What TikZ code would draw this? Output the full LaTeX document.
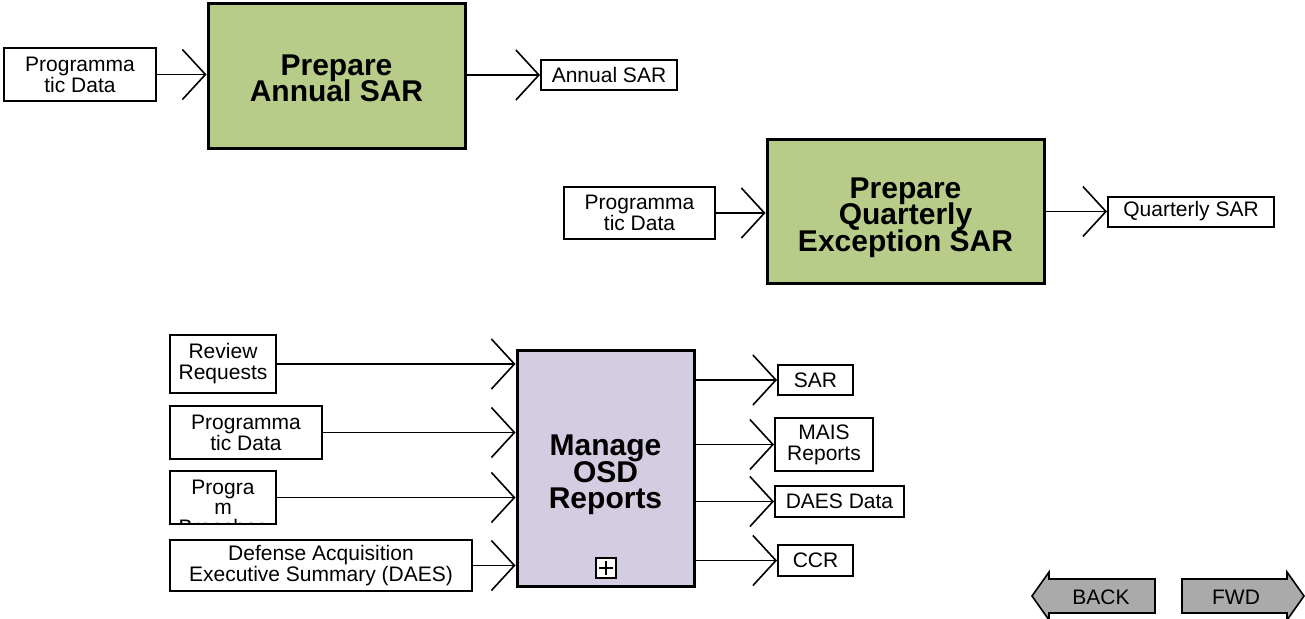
\documentclass[tikz,border=0pt]{standalone}
\usepackage{fontspec}
\setmainfont{Liberation Sans}
\usetikzlibrary{arrows.meta,positioning,calc}
\definecolor{sargreen}{RGB}{184,204,137}
\definecolor{osdpurple}{RGB}{212,204,224}
\definecolor{navgray}{RGB}{170,170,170}
\newcommand\procfont{\fontsize{15}{13.2}\selectfont\bfseries\lineskiplimit=-20pt\relax}

\begin{document}
\begin{tikzpicture}[x=0.5pt,y=-0.5pt,
   proc/.style={draw,line width=1.5pt,inner sep=0pt},
   proctxt/.style={inner sep=0pt,align=center,font=\procfont},
   dat/.style={draw,line width=1pt,fill=white,inner sep=0pt,align=center,font=\fontsize{10.5}{10.5}\selectfont},
   flow/.style={line width=0.8pt,-{Straight Barb[length=11.5pt,width=25pt]}},
   navbtn/.style={draw,line width=0.8pt,fill=navgray}]
  \useasboundingbox (0,0) rectangle (1305,618);
  \node[proc,fill=sargreen,minimum width=128.5pt,minimum height=72.5pt] (annual) at (336.5,75.5) {};
  \node[proctxt] (annualtxt) at ($(annual.center)+(0,3)$) {Prepare\\Annual SAR};
  \node[dat,minimum width=76pt,minimum height=26.5pt] (pdA) at (80,74.5) {Programma\\tic Data};
  \node[dat,minimum width=68pt,minimum height=15pt] (annsar) at (609,75) {Annual SAR};
  \draw[flow] (pdA.east) -- (pdA.east -| annual.west);
  \draw[flow] (annual.east |- annsar.west) -- (annsar.west);

  \node[proc,fill=sargreen,minimum width=138.5pt,minimum height=72pt] (quart) at (905.5,211) {};
  \node[proctxt] (quarttxt) at ($(quart.center)+(0,6.5)$) {Prepare\\Quarterly\\Exception SAR};
  \node[dat,minimum width=75.5pt,minimum height=26pt] (pdB) at (639.5,213) {Programma\\tic Data};
  \node[dat,minimum width=83pt,minimum height=15pt] (qsar) at (1191,211.5) {Quarterly SAR};
  \draw[flow] (pdB.east) -- (pdB.east -| quart.west);
  \draw[flow] (quart.east |- qsar.west) -- (qsar.west);

  \node[proc,fill=osdpurple,minimum width=88.5pt,minimum height=118pt] (osd) at (605.5,468) {};
  \node[proctxt] (osdtxt) at ($(osd.center)+(0,7)$) {Manage\\OSD\\Reports};
  \node[draw,fill=white,line width=1pt,minimum size=10pt,inner sep=0pt] (plus) at (606,568) {};
  \draw[line width=0.8pt] (plus.center) ++(0,-7) -- ++(0,14);
  \draw[line width=0.8pt] (plus.center) ++(-7,0) -- ++(14,0);
  \node[dat,minimum width=53pt,minimum height=29pt] (rr) at (223,364) {Review\\Requests};
  \node[dat,minimum width=76pt,minimum height=26.5pt] (pdC) at (246,432.5) {Programma\\tic Data};
  \node[dat,minimum width=53pt,minimum height=26.5pt,
     path picture={\node[draw=none,fill=none,inner sep=0pt,align=center,font=\fontsize{10.5}{10}\selectfont,yshift=-4.75pt] (brchtxt) at (path picture bounding box.center) {Progra\\m\\Breaches};}] (brch) at (223,497.5) {};
  \node[dat,minimum width=151pt,minimum height=25.5pt] (daes) at (321,565.5) {Defense Acquisition\\Executive Summary (DAES)};
  \draw[flow] (rr.east) -- (rr.east -| osd.west);
  \draw[flow] (pdC.east) -- (pdC.east -| osd.west);
  \draw[flow] (brch.east) -- (brch.east -| osd.west);
  \draw[flow] (daes.east) -- (daes.east -| osd.west);
  \node[dat,minimum width=37.5pt,minimum height=15pt] (sar) at (815.5,380) {SAR};
  \node[dat,minimum width=49pt,minimum height=26.5pt] (mais) at (824,444.5) {MAIS\\Reports};
  \node[dat,minimum width=64.5pt,minimum height=15.5pt] (daesd) at (839.5,501.5) {DAES Data};
  \node[dat,minimum width=37.5pt,minimum height=15.5pt] (ccr) at (815.5,560.5) {CCR};
  \draw[flow] (osd.east |- sar.west) -- (sar.west);
  \draw[flow] (osd.east |- mais.west) -- (mais.west);
  \draw[flow] (osd.east |- daesd.west) -- (daesd.west);
  \draw[flow] (osd.east |- ccr.west) -- (ccr.west);

  \draw[navbtn] (1155,579) -- (1049,579) -- (1049,572) -- (1032,596) -- (1049,620) -- (1049,613) -- (1155,613) -- cycle;
  \node[font=\fontsize{10.5}{10.5}\selectfont] (back) at (1101,597) {BACK};
  \draw[navbtn] (1182,579) -- (1287,579) -- (1287,572) -- (1304,596) -- (1287,620) -- (1287,613) -- (1182,613) -- cycle;
  \node[font=\fontsize{10.5}{10.5}\selectfont] (fwd) at (1236,597) {FWD};
\end{tikzpicture}
\end{document}
